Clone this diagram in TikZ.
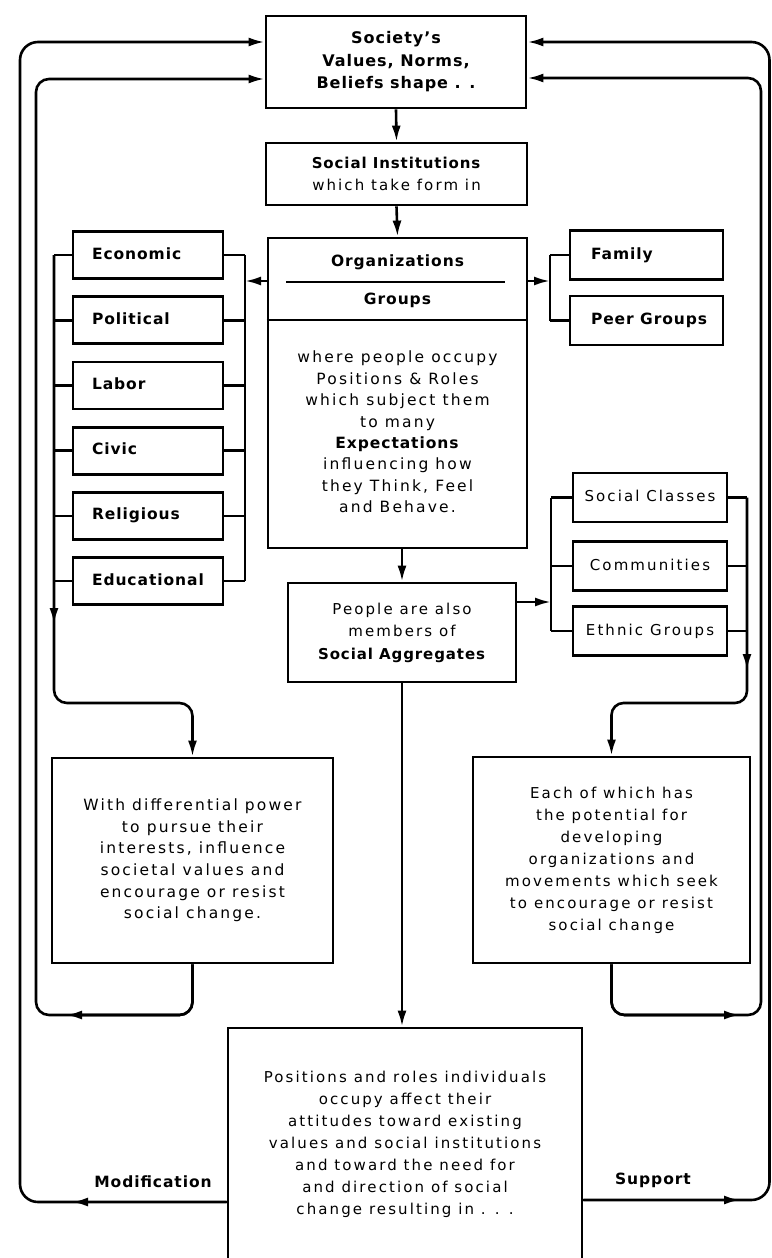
\documentclass[tikz,border=0pt]{standalone}
\usepackage{fontspec}
\setmainfont{DejaVu Sans}[LetterSpace=14,BoldFeatures={LetterSpace=6}]
\usetikzlibrary{arrows.meta}
% fixed-width, flush-left label inside a box
\newcommand\flushlbl[2]{\makebox[#1][l]{#2}}

\begin{document}
\begin{tikzpicture}[x=1pt,y=-1pt,
  rm/.style={font=\fontsize{15}{21.5}\selectfont},
  bf/.style={font=\bfseries\fontsize{15.5}{21.5}\selectfont},
  box/.style={draw, line width=2.8pt, inner sep=0pt, align=center},
  tagbox/.style={box, bf, minimum height=47pt, inner xsep=19pt, text height=11pt, text depth=3pt},
  sidebox/.style={box, bf, minimum height=49pt, inner xsep=21pt, text height=11pt, text depth=3pt},
  aggbox/.style={box, rm, minimum width=154pt, minimum height=49pt, text height=11pt, text depth=3pt},
  conn/.style={line width=2.6pt},
  arr/.style={conn, -{Latex[length=16pt,width=9pt]}},
  rule/.style={line width=2.6pt}
]
\useasboundingbox (0,0) rectangle (771,1258);
\fill[white] (0,0) rectangle (771,1258);
\clip (0,0) rectangle (771,1258);

% ---- helper points for buses and loops
\coordinate (lb) at (54,255);
\coordinate (rb) at (245,255);
\coordinate (lbA) at (54,624);
\coordinate (lbH) at (192.5,703);
\coordinate (plA) at (66,1015);
\coordinate (ilT) at (36,79);
\coordinate (olB) at (0,1202);
\coordinate (olA) at (72,1202);
\coordinate (olT) at (20,42);
\coordinate (oy) at (0,281);
\coordinate (fb) at (550,255);
\coordinate (cb) at (551,497.5);
\coordinate (cr) at (747,497.5);
\coordinate (crA) at (747,670);
\coordinate (crH) at (611.5,703);
\coordinate (py) at (0,602);
\coordinate (elA) at (740,1015);
\coordinate (irT) at (761,78);
\coordinate (srY) at (0,1200);
\coordinate (srA) at (740,1200);
\coordinate (orT) at (769.5,42);
\coordinate (gy) at (0,320);

% ---- central column
\node[box, font=\bfseries\fontsize{16}{22.5}\selectfont, minimum width=260pt, minimum height=92pt]
  (soc) at (396,62) {Society’s\\ Values, Norms,\\ Beliefs shape . .};
\node[box, font=\fontsize{15}{22}\selectfont, minimum width=261pt, minimum height=62pt]
  (inst) at (396.5,174) {\textbf{Social Institutions}\\ which take form in};

\node[box, minimum width=259pt, minimum height=310pt] (org) at (397.5,393) {};
\node[bf] (orgname) at (397.5,262) {Organizations};
\node[bf] (groups) at (397.5,300) {Groups};
\draw[rule] (286,282) -- (505,282);
\draw[rule] (org.west |- gy) -- (org.east |- gy);
\node[font=\fontsize{15.5}{21.4}\selectfont, align=center, inner sep=0pt] (orgtext) at (397.5,432)
  {where people occupy\\ Positions \& Roles\\ which subject them\\ to many\\ \textbf{Expectations}\\
   influencing how\\ they Think, Feel\\ and Behave.};

\node[box, font=\fontsize{15}{22.5}\selectfont, minimum width=228pt, minimum height=99pt]
  (people) at (402,632.5) {People are also\\ members of\\ \textbf{Social Aggregates}};

\node[box, font=\fontsize{15}{22}\selectfont, minimum width=354pt, minimum height=233pt]
  (bottom) at (405,1144.5)
  {Positions and roles individuals\\ occupy affect their\\ attitudes toward existing\\
   values and social institutions\\ and toward the need for\\ and direction of social\\
   change resulting in . . .};

% ---- institutional sectors (left)
\foreach \n/\t [count=\i from 0] in {econ/Economic, pol/Political, lab/Labor,
    civ/Civic, rel/Religious, edu/Educational}{
  \node[tagbox] (\n) at (148,{255+65.2*\i}) {\flushlbl{112pt}{\t}};
  \draw[conn] (\n.west) -- (\n.west -| lb);
  \draw[conn] (\n.east) -- (\n.east -| rb);
}
\draw[conn] (econ.east -| rb) -- (edu.east -| rb);

% ---- primary groups (right top)
\node[sidebox] (fam) at (646.5,255) {\flushlbl{111pt}{Family}};
\node[sidebox] (peer) at (646.5,320.5) {\flushlbl{111pt}{Peer Groups}};
\draw[conn] (fam.west) -- (fam.west -| fb);
\draw[conn] (peer.west) -- (peer.west -| fb);
\draw[conn] (fam.west -| fb) -- (peer.west -| fb);

% ---- social aggregates (right middle)
\node[aggbox] (cls) at (650,497.5) {Social Classes};
\node[aggbox] (com) at (650,566) {Communities};
\node[aggbox] (eth) at (650,631) {Ethnic Groups};
\foreach \n in {cls,com,eth}{
  \draw[conn] (\n.west) -- (\n.west -| cb);
  \draw[conn] (\n.east) -- (\n.east -| cr);
}
\draw[conn] (cls.west -| cb) -- (eth.west -| cb);

% ---- outcome boxes
\node[box, font=\fontsize{15.5}{21.6}\selectfont, minimum width=281pt, minimum height=205pt]
  (power) at (192.5,860.5)
  {With differential power\\ to pursue their\\ interests, influence\\ societal values and\\
   encourage or resist\\ social change.};
\node[box, font=\fontsize{15}{22}\selectfont, minimum width=277pt, minimum height=206pt]
  (each) at (611.5,860)
  {Each of which has\\ the potential for\\ developing\\ organizations and\\
   movements which seek\\ to encourage or resist\\ social change};

% ---- connectors, central column
\draw[arr] (soc.south) -- (inst.north);
\draw[arr] (inst.south) -- (org.north);
\draw[arr] (org.west |- oy) -- (rb |- oy);
\draw[arr] (org.east |- oy) -- (fb |- oy);
\draw[arr] (org.south -| people.north) -- (people.north);
\draw[arr] (people.east |- py) -- (cb |- py);
\draw[arr] (people.south) -- (bottom.north -| people.south);

% ---- left bus down to the power box (with a mid-way arrowhead)
\draw[arr, rounded corners=13pt] (econ.west -| lb) |- (lbH) -- (power.north);
\draw[arr] (econ.west -| lb) -- (lbA);

% ---- right bus down to the movements box
\draw[arr, rounded corners=12pt] (cls.east -| cr) |- (crH) -- (each.north);
\draw[arr] (cls.east -| cr) -- (crA);

% ---- inner feedback loops
\draw[arr, rounded corners=13pt] (power.south) |- (ilT |- plA) -- (ilT) -- (soc.west |- ilT);
\draw[arr, rounded corners=13pt] (power.south) |- (plA);
\draw[arr, rounded corners=13pt] (each.south) |- (irT |- elA) -- (irT) -- (soc.east |- irT);
\draw[arr, rounded corners=13pt] (each.south) |- (elA);

% ---- outer feedback loops
\draw[arr, rounded corners=18pt] (bottom.west |- olB) -| (olT) -- (soc.west |- olT);
\draw[arr] (bottom.west |- olB) -- (olA);
\draw[arr, rounded corners=18pt] (bottom.east |- srY) -| (orT) -- (soc.east |- orT);
\draw[arr] (bottom.east |- srY) -- (srA);

\node[bf] (mod) at (153,1182) {Modification};
\node[bf] (sup) at (653,1180) {Support};
\end{tikzpicture}
\end{document}
